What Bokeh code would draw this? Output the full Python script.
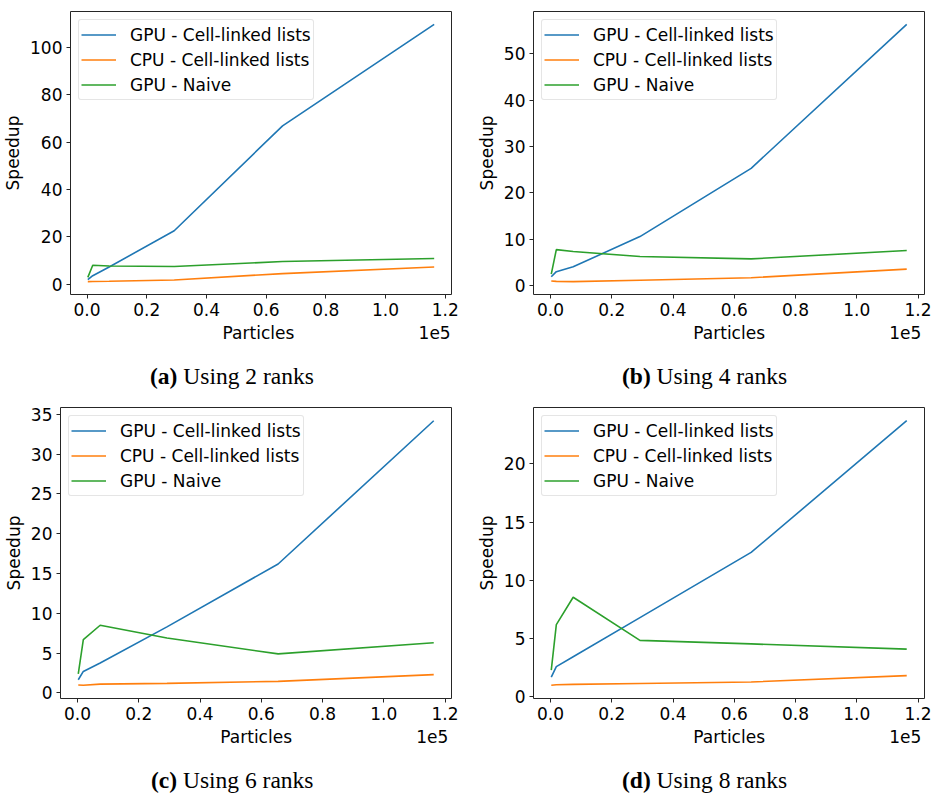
from bokeh.plotting import figure
from bokeh.layouts import column, row
from bokeh.models import Div, FixedTicker, Legend, LegendItem, Range1d
from bokeh.embed import file_html
from bokeh.resources import INLINE

# Particle counts (shared by all runs)
particles = [250, 1900, 7400, 29200, 65500, 116300]

# Speedup per run, one list per method
ranks = [2, 4, 6, 8]
panel_tags = ["a", "b", "c", "d"]

gpu_cell_linked = [
    [1.8, 3.5, 7.2, 22.5, 66.9, 109.8],
    [1.95, 3.05, 4.1, 10.6, 25.3, 56.3],
    [1.65, 2.7, 3.75, 8.3, 16.2, 34.2],
    [1.7, 2.6, 3.45, 6.8, 12.4, 23.7],
]
cpu_cell_linked = [
    [1.0, 1.05, 1.15, 1.7, 4.4, 7.2],
    [1.05, 0.95, 0.9, 1.2, 1.75, 3.6],
    [1.0, 0.96, 1.1, 1.2, 1.45, 2.3],
    [1.0, 1.05, 1.08, 1.15, 1.28, 1.83],
]
gpu_naive = [
    [2.8, 7.9, 7.6, 7.4, 9.5, 10.8],
    [2.5, 7.8, 7.4, 6.3, 5.8, 7.6],
    [2.4, 6.7, 8.5, 6.9, 4.9, 6.3],
    [2.3, 6.2, 8.55, 4.85, 4.55, 4.1],
]

series_names = ["GPU - Cell-linked lists", "CPU - Cell-linked lists", "GPU - Naive"]
series_colors = ["#1f77b4", "#ff7f0e", "#2ca02c"]

x_ticks = [0, 20000, 40000, 60000, 80000, 100000, 120000]
x_tick_labels = ["0.0", "0.2", "0.4", "0.6", "0.8", "1.0", "1.2"]
x_offset_text = "1e5"
y_ticks = [
    [0, 20, 40, 60, 80, 100],
    [0, 10, 20, 30, 40, 50],
    [0, 5, 10, 15, 20, 25, 30, 35],
    [0, 5, 10, 15, 20],
]

# Canvas geometry of each panel: width, height, borders (left, right, top, bottom)
panel_geom = [
    (466, 355, 69, 15, 11, 60),
    (470, 355, 67, 12, 3, 61),
    (466, 356, 59, 15, 9, 56),
    (470, 356, 67, 12, 9, 56),
]
# caption strip under each panel: height, top padding, left padding
caption_geom = [
    (43, 8, 150),
    (43, 8, 156),
    (42, 13, 151),
    (42, 13, 156),
]

SANS = "DejaVu Sans"
SERIF = "Liberation Serif"
FS_PX = 17
FS = "%dpx" % FS_PX

# DejaVu Sans advance widths (em) used to lay out the x-axis title line
_ADV = {"P": 0.603, "a": 0.613, "r": 0.411, "t": 0.392, "i": 0.278, "c": 0.550,
        "l": 0.278, "e": 0.615, "s": 0.521, "1": 0.636, "5": 0.636}
NBSP = "\u00a0"
NBSP_EM = 0.318


def text_width(s):
    return sum(_ADV.get(ch, 0.6) for ch in s) * FS_PX


def x_title_line(frame_w, title, offset):
    """Axis title centred on the frame with the scale offset flush right."""
    wt, wo = text_width(title), text_width(offset)
    sp = NBSP_EM * FS_PX
    start = frame_w / 2 - wt / 2
    end = frame_w - 1
    left_pad = start - (frame_w - end)
    gap = end - wo - (start + wt)
    return NBSP * round(left_pad / sp) + title + NBSP * round(gap / sp) + offset


def padded(lo, hi, frac=0.05):
    span = hi - lo
    return lo - frac * span, hi + frac * span


def make_panel(i):
    w, h, bl, br, bt, bb = panel_geom[i]
    fw = w - bl - br
    series = [gpu_cell_linked[i], cpu_cell_linked[i], gpu_naive[i]]
    ymin = min(min(s) for s in series)
    ymax = max(max(s) for s in series)
    x0, x1 = padded(min(particles), max(particles))
    y0, y1 = padded(ymin, ymax)

    p = figure(width=w, height=h, output_backend="svg", toolbar_location=None,
               x_range=Range1d(x0, x1), y_range=Range1d(y0, y1),
               min_border_left=bl, min_border_right=br,
               min_border_top=bt, min_border_bottom=bb)
    p.background_fill_color = "white"
    p.border_fill_color = "white"
    p.outline_line_color = "#262626"
    p.outline_line_width = 1
    p.grid.visible = False

    for ax in (p.xaxis[0], p.yaxis[0]):
        ax.axis_line_color = None
        ax.major_tick_line_color = "#262626"
        ax.major_tick_line_width = 1
        ax.major_tick_out = 4
        ax.major_tick_in = 0
        ax.minor_tick_line_color = None
        ax.major_label_text_font = SANS
        ax.major_label_text_font_size = FS
        ax.major_label_text_color = "black"
        ax.major_label_standoff = 4
        ax.axis_label_text_font = SANS
        ax.axis_label_text_font_size = FS
        ax.axis_label_text_font_style = "normal"
        ax.axis_label_text_color = "black"
        ax.axis_label_standoff = 4

    p.xaxis.ticker = FixedTicker(ticks=x_ticks)
    p.xaxis.major_label_overrides = {t: lab for t, lab in zip(x_ticks, x_tick_labels)}
    p.xaxis.axis_label = x_title_line(fw, "Particles", x_offset_text)
    p.yaxis.ticker = FixedTicker(ticks=y_ticks[i])
    p.yaxis.axis_label = "Speedup"

    items = []
    for name, color, ys in zip(series_names, series_colors, series):
        r = p.line(particles, ys, line_color=color, line_width=1.6)
        items.append(LegendItem(label=name, renderers=[r]))

    legend = Legend(items=items, location="top_left")
    legend.label_text_font = SANS
    legend.label_text_font_size = FS
    legend.label_text_color = "black"
    legend.glyph_width = 35
    legend.glyph_height = 25
    legend.label_height = 25
    legend.label_standoff = 14
    legend.spacing = 0
    legend.padding = 2
    legend.margin = 8
    legend.border_line_color = "#cccccc"
    legend.border_line_width = 1
    legend.background_fill_alpha = 0.8
    if "border_radius" in Legend.properties():
        legend.border_radius = 3
    p.add_layout(legend, "center")
    return p


def make_caption(i):
    w = panel_geom[i][0]
    ch, pad_top, pad_left = caption_geom[i]
    html = ('<div style="font-family: \'%s\', serif; font-size: 23.5px; line-height: 26px; '
            'color: black; white-space: nowrap; padding-top: %dpx; padding-left: %dpx;">'
            '<b>(%s)</b> Using %d ranks</div>') % (SERIF, pad_top, pad_left,
                                                  panel_tags[i], ranks[i])
    return Div(text=html, width=w, height=ch, styles={"margin": "0", "padding": "0"})


panels = [make_panel(i) for i in range(4)]
captions = [make_caption(i) for i in range(4)]

layout = column(
    row(panels[0], panels[1], spacing=0),
    row(captions[0], captions[1], spacing=0),
    row(panels[2], panels[3], spacing=0),
    row(captions[2], captions[3], spacing=0),
    spacing=0,
)

open("out.html", "w").write(file_html(layout, INLINE))
